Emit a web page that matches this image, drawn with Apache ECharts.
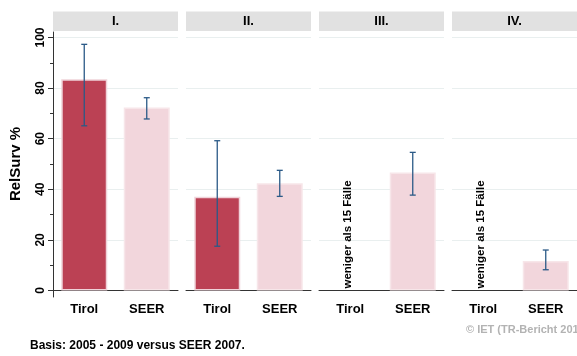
<!DOCTYPE html>
<html>
<head>
<meta charset="utf-8">
<script src="https://cdn.jsdelivr.net/npm/echarts@6.0.0/dist/echarts.min.js"></script>
<style>
  html, body { margin: 0; padding: 0; background: #fff; }
  #main { width: 577px; height: 356px; }
</style>
</head>
<body>
<div id="main"></div>
<script>
// RelSurv % nach Stadium, Tirol gegen SEER
const stages = ['I.', 'II.', 'III.', 'IV.'];
const groups = ['Tirol', 'SEER'];
const tirolValue = [83.5, 37.1, null, null];
const tirolLow = [65.1, 17.5, null, null];
const tirolHigh = [97.3, 59.2, null, null];
const seerValue = [72.3, 42.4, 46.6, 11.7];
const seerLow = [67.8, 37.2, 37.7, 8.2];
const seerHigh = [76.2, 47.5, 54.6, 16.0];
const yTicks = [0, 20, 40, 60, 80, 100];
const noteText = 'weniger als 15 Fälle';

const FONT = '"Liberation Sans", Arial, sans-serif';
const panelLeft = [53, 186, 319, 452];
const panelWidth = 125;
const plotTop = 37.5, plotHeight = 253;

var chart = echarts.init(document.getElementById('main'));

var grids = [], xAxes = [], yAxes = [], series = [], graphics = [];

stages.forEach(function (st, i) {
  grids.push({ left: panelLeft[i], top: plotTop, width: panelWidth, height: plotHeight });
  xAxes.push({
    gridIndex: i,
    type: 'category',
    data: groups,
    offset: 6.5,
    axisLine: { lineStyle: { color: '#333', width: 1 } },
    axisTick: { alignWithLabel: true, length: 5, lineStyle: { color: '#333' } },
    axisLabel: { color: '#000', fontFamily: FONT, fontSize: 13, fontWeight: 'bold', margin: 6 }
  });
  yAxes.push({
    gridIndex: i,
    type: 'value',
    min: yTicks[0],
    max: yTicks[yTicks.length - 1],
    interval: 20,
    name: i === 0 ? 'RelSurv %' : '',
    nameLocation: 'middle',
    nameGap: 30,
    nameTextStyle: { color: '#000', fontFamily: FONT, fontSize: 15, fontWeight: 'bold' },
    axisLine: { show: false },
    axisTick: { show: i === 0, length: 5, lineStyle: { color: '#333' } },
    minorTick: { show: i === 0, splitNumber: 2, length: 3, lineStyle: { color: '#333' } },
    axisLabel: { show: i === 0, rotate: 90, color: '#000', fontFamily: FONT, fontSize: 12, fontWeight: 'bold', margin: 6 },
    splitLine: { show: true, lineStyle: { color: '#e9efef', width: 1 } }
  });

  var barData = [
    { value: tirolValue[i], itemStyle: { color: '#bb4154', borderColor: '#f0d3d9', borderWidth: 1.5 } },
    { value: seerValue[i], itemStyle: { color: '#f2d6dc', borderColor: '#f7e6e9', borderWidth: 1.5 } }
  ];
  series.push({
    type: 'bar',
    xAxisIndex: i, yAxisIndex: i,
    barWidth: 46,
    data: barData,
    silent: true
  });

  var errData = [];
  if (tirolValue[i] != null) errData.push([0, tirolLow[i], tirolHigh[i]]);
  errData.push([1, seerLow[i], seerHigh[i]]);
  series.push({
    type: 'custom',
    xAxisIndex: i, yAxisIndex: i,
    data: errData,
    z: 5,
    renderItem: function (params, api) {
      var lo = api.coord([api.value(0), api.value(1)]);
      var hi = api.coord([api.value(0), api.value(2)]);
      var c = 3;
      var st = { stroke: '#2b5a87', lineWidth: 1.3 };
      return {
        type: 'group',
        children: [
          { type: 'line', shape: { x1: lo[0], y1: lo[1], x2: hi[0], y2: hi[1] }, style: st },
          { type: 'line', shape: { x1: lo[0] - c, y1: lo[1], x2: lo[0] + c, y2: lo[1] }, style: st },
          { type: 'line', shape: { x1: hi[0] - c, y1: hi[1], x2: hi[0] + c, y2: hi[1] }, style: st }
        ]
      };
    }
  });

  if (tirolValue[i] == null) {
    series.push({
      type: 'custom',
      xAxisIndex: i, yAxisIndex: i,
      data: [[0, 0]],
      z: 6,
      renderItem: function (params, api) {
        var p = api.coord([api.value(0), api.value(1)]);
        return {
          type: 'text',
          x: p[0] - 2, y: p[1] - 2,
          rotation: Math.PI / 2,
          style: {
            text: noteText, fill: '#000',
            font: 'bold 11.5px ' + FONT,
            align: 'left', verticalAlign: 'middle'
          }
        };
      }
    });
  }

  graphics.push({
    type: 'group',
    left: panelLeft[i], top: 11.5,
    children: [
      { type: 'rect', shape: { x: 0, y: 0, width: panelWidth, height: 19.5 }, style: { fill: '#e1e1e1' } },
      { type: 'text', x: panelWidth / 2, y: 10, style: { text: st, fill: '#000', font: 'bold 13px ' + FONT, align: 'center', verticalAlign: 'middle' } }
    ]
  });
});

// frame for the y axis line of the first panel (runs a bit past 0 and 100)
grids.push({ left: panelLeft[0], top: 32, width: panelWidth, height: 265 });
xAxes.push({ gridIndex: 4, type: 'value', show: false });
yAxes.push({
  gridIndex: 4, type: 'value', min: 0, max: 1,
  axisLine: { show: true, lineStyle: { color: '#333', width: 1 } },
  axisTick: { show: false }, axisLabel: { show: false }, splitLine: { show: false }
});

graphics.push({
  type: 'text', left: 30, top: 340,
  style: { text: 'Basis: 2005 - 2009 versus SEER 2007.', fill: '#000', font: 'bold 12px ' + FONT }
});
graphics.push({
  type: 'text', left: 466, top: 324,
  style: { text: '© IET (TR-Bericht 2013)', fill: '#b3b3b3', font: 'bold 11px ' + FONT }
});

chart.setOption({
  backgroundColor: '#fff',
  animation: false,
  grid: grids,
  xAxis: xAxes,
  yAxis: yAxes,
  series: series,
  graphic: graphics
});
</script>
</body>
</html>
